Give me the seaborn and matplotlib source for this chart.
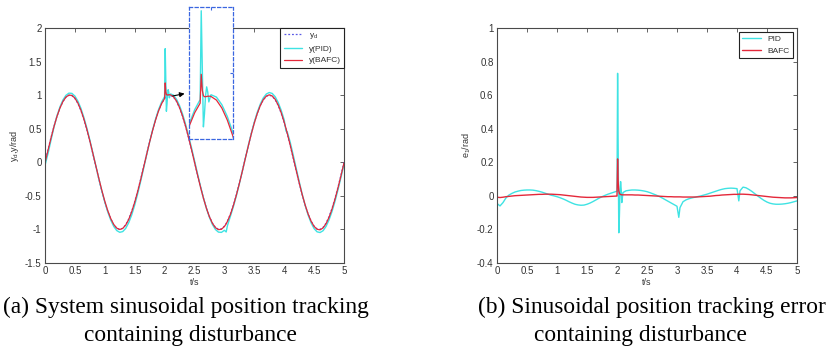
import numpy as np
import pandas as pd
import matplotlib
matplotlib.use("Agg")
import matplotlib.pyplot as plt
import seaborn as sns

# ============================================
# Data
# ============================================

t = [0.00, 0.05, 0.10, 0.15, 0.20, 0.25, 0.30, 0.35, 0.40, 0.45,
     0.50, 0.55, 0.60, 0.65, 0.70, 0.75, 0.80, 0.85, 0.90, 0.95,
     1.00, 1.05, 1.10, 1.15, 1.20, 1.25, 1.30, 1.35, 1.40, 1.45,
     1.50, 1.55, 1.60, 1.65, 1.70, 1.75, 1.80, 1.85, 1.90, 1.95,
     2.00, 2.01, 2.02, 2.03, 2.04, 2.05, 2.06, 2.07, 2.08, 2.09,
     2.10, 2.15, 2.20, 2.25, 2.30, 2.35, 2.40, 2.45, 2.50, 2.55,
     2.60, 2.65, 2.70, 2.75, 2.80, 2.85, 2.90, 2.95, 3.00, 3.03,
     3.05, 3.10, 3.15, 3.20, 3.25, 3.30, 3.35, 3.40, 3.45, 3.50,
     3.55, 3.60, 3.65, 3.70, 3.75, 3.80, 3.85, 3.90, 3.95, 4.00,
     4.03, 4.05, 4.10, 4.15, 4.20, 4.25, 4.30, 4.35, 4.40, 4.45,
     4.50, 4.55, 4.60, 4.65, 4.70, 4.75, 4.80, 4.85, 4.90, 4.95,
     5.00]

# desired position y_d (rad)
y_d = [0.000, 0.187, 0.368, 0.536, 0.685, 0.809, 0.905, 0.969, 0.998, 0.992,
       0.951, 0.876, 0.771, 0.637, 0.482, 0.309, 0.125, -0.063, -0.249, -0.426,
       -0.588, -0.729, -0.844, -0.930, -0.982, -1.000, -0.982, -0.930, -0.844, -0.729,
       -0.588, -0.426, -0.249, -0.063, 0.125, 0.309, 0.482, 0.637, 0.771, 0.876,
       0.951, 0.962, 0.972, 0.980, 0.987, 0.992, 0.996, 0.999, 1.000, 1.000,
       0.998, 0.969, 0.905, 0.809, 0.685, 0.536, 0.368, 0.187, 0.000, -0.187,
       -0.368, -0.536, -0.685, -0.809, -0.905, -0.969, -0.998, -0.992, -0.951, -0.910,
       -0.876, -0.771, -0.637, -0.482, -0.309, -0.125, 0.063, 0.249, 0.426, 0.588,
       0.729, 0.844, 0.930, 0.982, 1.000, 0.982, 0.930, 0.844, 0.729, 0.588,
       0.493, 0.426, 0.249, 0.063, -0.125, -0.309, -0.482, -0.637, -0.771, -0.876,
       -0.951, -0.992, -0.998, -0.969, -0.905, -0.809, -0.685, -0.536, -0.368, -0.187,
       0.000]

# tracking error e1 (rad), PID
e_pid = [-0.045, -0.060, -0.040, -0.012, 0.005, 0.015, 0.023, 0.028, 0.032, 0.034,
         0.035, 0.035, 0.034, 0.031, 0.027, 0.022, 0.016, 0.010, 0.004, 0.000,
         -0.005, -0.011, -0.018, -0.026, -0.035, -0.043, -0.050, -0.054, -0.056, -0.055,
         -0.050, -0.043, -0.034, -0.024, -0.014, -0.005, 0.003, 0.010, 0.016, 0.022,
         0.028, 0.730, 0.250, -0.220, -0.120, 0.020, 0.085, 0.040, -0.040, -0.010,
         0.020, 0.030, 0.033, 0.035, 0.035, 0.034, 0.032, 0.029, 0.025, 0.019,
         0.012, 0.005, -0.003, -0.012, -0.022, -0.032, -0.042, -0.052, -0.062, -0.128,
         -0.070, -0.035, -0.024, -0.017, -0.012, -0.008, -0.004, 0.000, 0.005, 0.010,
         0.016, 0.022, 0.028, 0.034, 0.039, 0.043, 0.045, 0.046, 0.045, 0.043,
         -0.030, 0.030, 0.052, 0.048, 0.038, 0.026, 0.012, -0.002, -0.015, -0.027,
         -0.037, -0.044, -0.048, -0.050, -0.050, -0.049, -0.047, -0.044, -0.040, -0.035,
         -0.030]

# tracking error e1 (rad), BAFC
e_bafc = [-0.008, -0.010, -0.008, -0.005, -0.003, -0.001, 0.001, 0.002, 0.003, 0.004,
          0.005, 0.006, 0.007, 0.008, 0.009, 0.009, 0.010, 0.010, 0.010, 0.009,
          0.008, 0.007, 0.005, 0.003, 0.001, -0.001, -0.003, -0.005, -0.007, -0.008,
          -0.009, -0.009, -0.009, -0.008, -0.007, -0.006, -0.005, -0.004, -0.003, -0.002,
          -0.001, 0.220, 0.080, 0.030, 0.015, 0.010, 0.008, 0.007, 0.006, 0.006,
          0.006, 0.006, 0.006, 0.006, 0.005, 0.005, 0.004, 0.003, 0.002, 0.001,
          0.000, -0.001, -0.002, -0.003, -0.004, -0.005, -0.005, -0.006, -0.006, -0.006,
          -0.006, -0.007, -0.007, -0.007, -0.007, -0.007, -0.006, -0.005, -0.004, -0.003,
          -0.002, 0.000, 0.002, 0.003, 0.005, 0.006, 0.007, 0.008, 0.009, 0.009,
          0.010, 0.010, 0.010, 0.009, 0.008, 0.006, 0.004, 0.002, 0.000, -0.002,
          -0.004, -0.006, -0.008, -0.009, -0.010, -0.011, -0.012, -0.012, -0.012, -0.011,
          -0.010]

x_ticks = [0, 0.5, 1, 1.5, 2, 2.5, 3, 3.5, 4, 4.5, 5]
x_ticklabels = ["0", "0.5", "1", "1.5", "2", "2.5", "3", "3.5", "4", "4.5", "5"]
ya_ticks = [-1.5, -1, -0.5, 0, 0.5, 1, 1.5, 2]
ya_ticklabels = ["-1.5", "-1", "-0.5", "0", "0.5", "1", "1.5", "2"]
yb_ticks = [-0.4, -0.2, 0, 0.2, 0.4, 0.6, 0.8, 1]
yb_ticklabels = ["-0.4", "-0.2", "0", "0.2", "0.4", "0.6", "0.8", "1"]

df = pd.DataFrame({"t": t, "yd": y_d, "e_pid": e_pid, "e_bafc": e_bafc})
# system outputs = desired + error
df["y_pid"] = df["yd"] + df["e_pid"]
df["y_bafc"] = df["yd"] + df["e_bafc"]

# ============================================
# Style
# ============================================

sns.set_style("white")
plt.rcParams["font.family"] = ["Liberation Sans", "DejaVu Sans"]
plt.rcParams["mathtext.fontset"] = "custom"
plt.rcParams["mathtext.rm"] = "Liberation Sans"

CYAN = "#3fe3e3"
RED = "#e4283a"
YD_BLUE = "#5a5ae6"
FRAME = "#4a4a4a"
TXT = "#333333"

W, H = 833, 351
fig = plt.figure(figsize=(W / 100, H / 100), dpi=100)


def px_axes(left, top, right, bottom):
    return fig.add_axes([left / W, 1 - bottom / H, (right - left) / W, (bottom - top) / H])


def matlab_frame(ax, xt, xtl, yt, ytl):
    ax.set_xticks(xt)
    ax.set_xticklabels(xtl)
    ax.set_yticks(yt)
    ax.set_yticklabels(ytl)
    ax.tick_params(direction="in", length=3, width=0.6, colors=FRAME, labelcolor=TXT,
                   labelsize=7, top=True, right=True, pad=2.5)
    for s in ax.spines.values():
        s.set_color(FRAME)
        s.set_linewidth(0.8)


# ============================================
# (a) position tracking
# ============================================

ax1 = px_axes(45, 28, 344, 263)
sns.lineplot(data=df, x="t", y="yd", ax=ax1, color=YD_BLUE, lw=0.9,
             linestyle=(0, (1.5, 1.5)), sort=False, estimator=None, label="y$_\\mathregular{d}$")
sns.lineplot(data=df, x="t", y="y_pid", ax=ax1, color=CYAN, lw=1.0,
             sort=False, estimator=None, label="y(PID)")
sns.lineplot(data=df, x="t", y="y_bafc", ax=ax1, color=RED, lw=0.9,
             sort=False, estimator=None, label="y(BAFC)")
ax1.set_xlim(0, 5)
ax1.set_ylim(-1.5, 2)
matlab_frame(ax1, x_ticks, x_ticklabels, ya_ticks, ya_ticklabels)
ax1.set_xlabel("t/s", fontsize=6.5, color=TXT, labelpad=1)
ax1.set_ylabel("y$_\\mathregular{d}$,y/rad", fontsize=6.5, color=TXT, labelpad=3)
leg1 = ax1.legend(loc="upper right", bbox_to_anchor=(1, 1), borderaxespad=0, fontsize=6,
                  handlelength=2.2, labelspacing=0.45, borderpad=0.4, fancybox=False,
                  framealpha=1, edgecolor="#222222")
leg1.get_frame().set_linewidth(0.8)
for txt in leg1.get_texts():
    txt.set_color(TXT)

ax1.annotate("", xy=(2.38, 1.03), xytext=(2.09, 0.98),
             arrowprops=dict(arrowstyle="-|>", color="black", lw=0.8, mutation_scale=7))

# zoomed inset around the disturbance at t = 2 s
ins = px_axes(189.3, 7.3, 232.7, 139.3)
ins.patch.set_facecolor("white")
sns.lineplot(data=df, x="t", y="y_pid", ax=ins, color=CYAN, lw=1.0,
             sort=False, estimator=None, legend=False)
sns.lineplot(data=df, x="t", y="y_bafc", ax=ins, color=RED, lw=0.9,
             sort=False, estimator=None, legend=False)
ins.set_xlim(1.9, 2.3)
ins.set_ylim(0.66, 1.72)
ins.set_xticks([2.1])
ins.set_yticks([1.19])
ins.set_xticklabels([])
ins.set_yticklabels([])
ins.set_xlabel("")
ins.set_ylabel("")
ins.tick_params(direction="in", length=2, width=0.8, colors="#3a66e0", top=True, right=True)
for s in ins.spines.values():
    s.set_color("#3a66e0")
    s.set_linewidth(0.9)
    s.set_linestyle((0, (2.5, 2)))

# ============================================
# (b) tracking error
# ============================================

ax2 = px_axes(497, 28, 797, 263)
sns.lineplot(data=df, x="t", y="e_pid", ax=ax2, color=CYAN, lw=1.0,
             sort=False, estimator=None, label="PID")
sns.lineplot(data=df, x="t", y="e_bafc", ax=ax2, color=RED, lw=1.0,
             sort=False, estimator=None, label="BAFC")
ax2.set_xlim(0, 5)
ax2.set_ylim(-0.4, 1)
matlab_frame(ax2, x_ticks, x_ticklabels, yb_ticks, yb_ticklabels)
ax2.set_xlabel("t/s", fontsize=6.5, color=TXT, labelpad=1)
ax2.set_ylabel("e$_\\mathregular{1}$/rad", fontsize=6.5, color=TXT, labelpad=3)
leg2 = ax2.legend(loc="upper right", fontsize=6, handlelength=2.2, labelspacing=0.45,
                  borderpad=0.4, borderaxespad=0.5, fancybox=False, framealpha=1,
                  edgecolor="#222222")
leg2.get_frame().set_linewidth(0.8)
for txt in leg2.get_texts():
    txt.set_color(TXT)

# ============================================
# Captions
# ============================================

cap = dict(fontsize=16.8, family=["Liberation Serif", "DejaVu Serif"], color="black", va="center")
fig.text(186 / W, 1 - 307 / H, "(a) System sinusoidal position tracking", ha="center", **cap)
fig.text(190 / W, 1 - 336 / H, "containing disturbance", ha="center", **cap)
fig.text(652 / W, 1 - 307 / H, "(b) Sinusoidal position tracking error", ha="center", **cap)
fig.text(640 / W, 1 - 336 / H, "containing disturbance", ha="center", **cap)

fig.savefig("out.png", dpi=100)
plt.close(fig)
